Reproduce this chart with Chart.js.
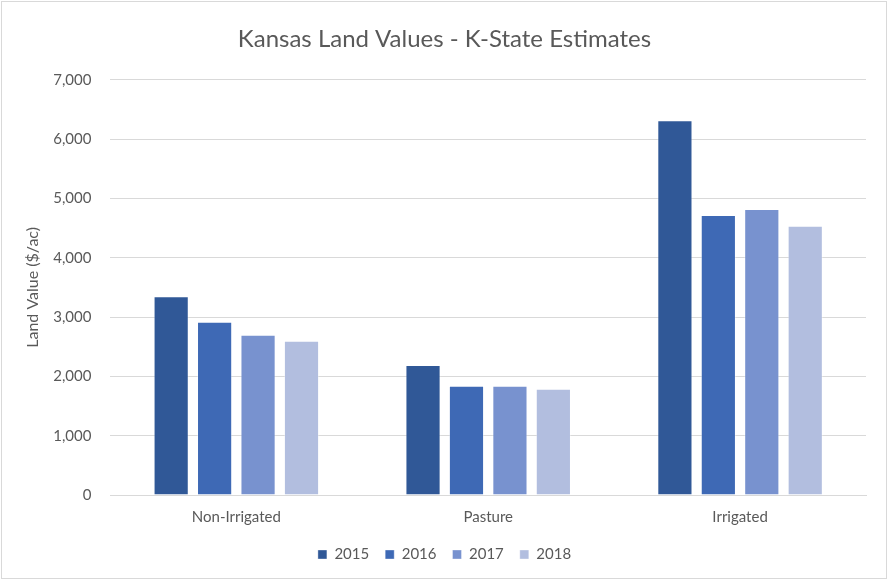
<!DOCTYPE html>
<html>
<head>
<meta charset="utf-8">
<script src="https://cdn.jsdelivr.net/npm/chart.js@4"></script>
<style>
  html, body { margin: 0; padding: 0; background: #fff; }
  #wrap { position: absolute; left: 1px; top: 1px; width: 886px; height: 578px; border: 1px solid #d9d9d9; box-sizing: border-box; }
  canvas { display: block; }
</style>
</head>
<body>
<div id="wrap"><canvas id="chart"></canvas></div>
<script>
// --- Data ---
const categories = ["Non-Irrigated", "Pasture", "Irrigated"];
const years = ["2015", "2016", "2017", "2018"];
const values2015 = [3350, 2190, 6320];
const values2016 = [2920, 1840, 4720];
const values2017 = [2700, 1840, 4820];
const values2018 = [2600, 1790, 4540];
const yTicks = [0, 1000, 2000, 3000, 4000, 5000, 6000, 7000];

const seriesValues = [values2015, values2016, values2017, values2018];
const colors = ['#305897', '#3e69b5', '#7892cf', '#b2bedf'];
const textColor = '#595959';
const fontFamily = "Lato, 'Open Sans', sans-serif";

const ctx = document.getElementById("chart").getContext('2d');

new Chart(ctx, {
  type: 'bar',
  data: {
    labels: categories,
    datasets: years.map((y, i) => ({
      label: y,
      data: seriesValues[i],
      backgroundColor: colors[i],
      borderColor: 'rgba(255,255,255,0.35)',
      borderWidth: 1,
      categoryPercentage: 0.69,
      barPercentage: 0.81
    }))
  },
  options: {
    responsive: true,
    maintainAspectRatio: false,
    animation: false,
    layout: { padding: { left: 21, right: 20, top: 8, bottom: 6 } },
    scales: {
      x: {
        grid: { display: false },
        border: { color: '#d9d9d9', width: 1 },
        ticks: { color: textColor, font: { family: fontFamily, size: 15 }, padding: 5 }
      },
      y: {
        min: 0,
        max: 7000,
        afterBuildTicks: (axis) => { axis.ticks = yTicks.map(v => ({ value: v })); },
        grid: { color: '#d9d9d9', drawTicks: false },
        border: { display: false },
        title: {
          display: true,
          text: 'Land Value ($/ac)',
          color: textColor,
          font: { family: fontFamily, size: 16 },
          padding: { top: 0, bottom: -8 }
        },
        ticks: {
          color: textColor,
          font: { family: fontFamily, size: 15 },
          padding: 19,
          callback: (v) => v.toLocaleString('en-US')
        }
      }
    },
    plugins: {
      title: {
        display: true,
        text: 'Kansas Land Values - K-State Estimates',
        color: textColor,
        font: { family: fontFamily, size: 24, weight: 'normal' },
        padding: { top: 15, bottom: 26 }
      },
      legend: {
        position: 'bottom',
        labels: {
          color: textColor,
          font: { family: fontFamily, size: 15 },
          boxWidth: 9,
          boxHeight: 9,
          padding: 16
        }
      },
      tooltip: { enabled: false }
    }
  }
});
</script>
</body>
</html>
